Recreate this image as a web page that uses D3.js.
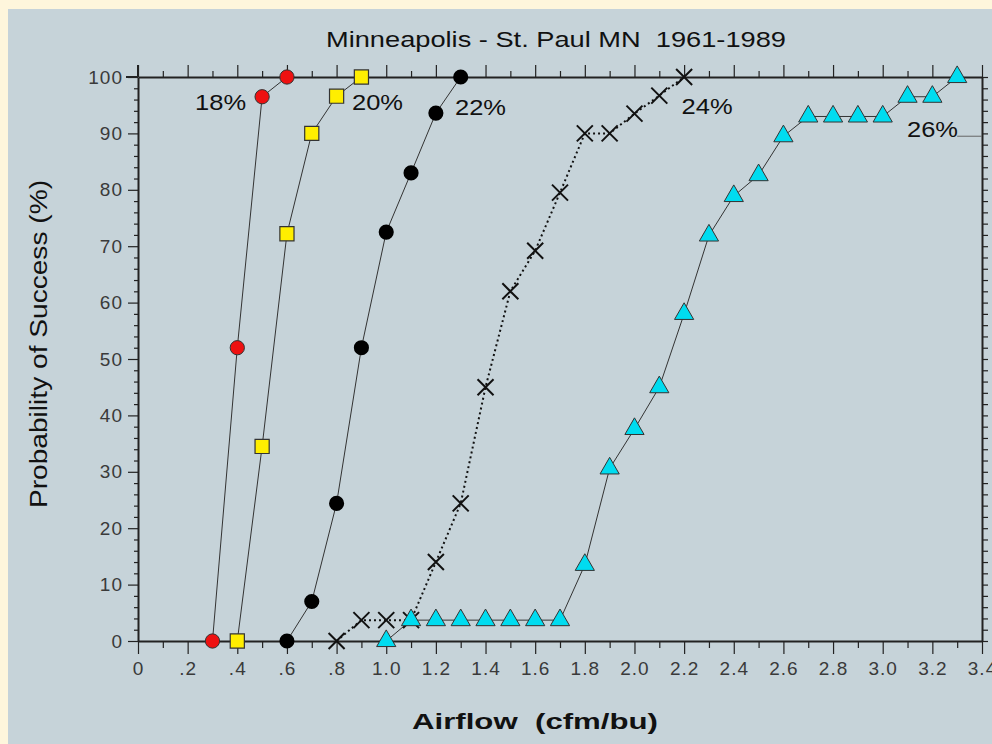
<!DOCTYPE html>
<html>
<head>
<meta charset="utf-8">
<script src="https://cdn.jsdelivr.net/npm/d3@7"></script>
<style>
  body { margin: 0; background: #fef6dc; }
  svg { display: block; }
  text { font-family: "Liberation Sans", Arial, sans-serif; white-space: pre; }
</style>
</head>
<body>
<svg id="chart" width="992" height="744"></svg>
<script>
// airflow levels (cfm/bu)
let airflow18 = [0.3, 0.4, 0.5, 0.6];
let success18 = [0, 52, 96.5, 100];

let airflow20 = [0.4, 0.5, 0.6, 0.7, 0.8, 0.9];
let success20 = [0, 34.5, 72.2, 90, 96.6, 100];

let airflow22 = [0.6, 0.7, 0.8, 0.9, 1.0, 1.1, 1.2, 1.3];
let success22 = [0, 7, 24.4, 52, 72.5, 83, 93.6, 100];

let airflow24 = [0.8, 0.9, 1.0, 1.1, 1.2, 1.3, 1.4, 1.5, 1.6, 1.7, 1.8, 1.9, 2.0, 2.1, 2.2];
let success24 = [0, 3.7, 3.7, 3.7, 14, 24.4, 45, 62, 69.2, 79.5, 90, 90, 93.5, 96.7, 100];

let airflow26 = [1.0, 1.1, 1.2, 1.3, 1.4, 1.5, 1.6, 1.7, 1.8, 1.9, 2.0, 2.1, 2.2, 2.3, 2.4, 2.5, 2.6, 2.7, 2.8, 2.9, 3.0, 3.1, 3.2, 3.3];
let success26 = [0, 3.7, 3.7, 3.7, 3.7, 3.7, 3.7, 3.7, 13.5, 30.6, 37.6, 45, 58, 71.9, 78.9, 82.6, 89.5, 93, 93, 93, 93, 96.5, 96.5, 100];

let seriesLabels = ["18%", "20%", "22%", "24%", "26%"];
let xTickLabels = ["0", ".2", ".4", ".6", ".8", "1.0", "1.2", "1.4", "1.6", "1.8", "2.0", "2.2", "2.4", "2.6", "2.8", "3.0", "3.2", "3.4"];
let yTicks = [0, 10, 20, 30, 40, 50, 60, 70, 80, 90, 100];

let svg = d3.select("#chart");

// grey panel
svg.append("rect").attr("x", 8).attr("y", 9).attr("width", 984).attr("height", 735).attr("fill", "#c6d3d9");

let x = d3.scaleLinear().domain([0, 3.4]).range([138, 982]);
let y = d3.scaleLinear().domain([0, 100]).range([641, 77]);

let ink = "#222";

// title
svg.append("text").attr("x", 556).attr("y", 47).attr("text-anchor", "middle")
    .attr("font-size", 22).attr("fill", "#111").attr("textLength", 460)
    .attr("lengthAdjust", "spacingAndGlyphs")
    .text("Minneapolis - St. Paul MN  1961-1989");

// axes
let axBottom = svg.append("g").attr("transform", `translate(0,${y(0)})`)
    .call(d3.axisBottom(x).tickValues(d3.range(0, 3.41, 0.2)).tickSize(13).tickSizeOuter(0)
        .tickFormat((d, i) => xTickLabels[i]));
let axBottomMinor = svg.append("g").attr("transform", `translate(0,${y(0)})`)
    .call(d3.axisBottom(x).tickValues(d3.range(0.1, 3.4, 0.2)).tickSize(7).tickFormat(""));

let axTop = svg.append("g").attr("transform", `translate(0,${y(100)})`)
    .call(d3.axisTop(x).tickValues(d3.range(0, 3.41, 0.2)).tickSize(12).tickSizeOuter(0).tickFormat(""));
let axTopMinor = svg.append("g").attr("transform", `translate(0,${y(100)})`)
    .call(d3.axisTop(x).tickValues(d3.range(0.1, 3.4, 0.2)).tickSize(6).tickFormat(""));

let axLeft = svg.append("g").attr("transform", `translate(${x(0)},0)`)
    .call(d3.axisLeft(y).tickValues(yTicks).tickSize(10).tickSizeOuter(0).tickPadding(5));
let axLeftMinor = svg.append("g").attr("transform", `translate(${x(0)},0)`)
    .call(d3.axisLeft(y).tickValues(d3.range(2, 100, 2).filter(v => v % 10 !== 0)).tickSize(4).tickFormat(""));

let axRight = svg.append("g").attr("transform", `translate(${x(3.4)},0)`)
    .call(d3.axisRight(y).tickValues(d3.range(0, 101, 2)).tickSize(6).tickSizeOuter(0).tickFormat(""));

[axBottom, axBottomMinor, axTop, axTopMinor, axLeft, axLeftMinor, axRight].forEach(g => {
    g.attr("font-size", null).attr("font-family", null);
    g.select(".domain").attr("stroke", ink).attr("stroke-width", 2);
    g.selectAll(".tick line").attr("stroke", ink).attr("stroke-width", 1.2);
    g.selectAll(".tick text").attr("font-size", 19).attr("letter-spacing", 1)
        .attr("fill", "#3a3a3a");
});
[axBottomMinor, axTopMinor, axLeftMinor].forEach(g => g.select(".domain").remove());
axBottom.selectAll(".tick text").attr("dy", "0.95em");

// little overshoot where the axes meet
svg.append("line").attr("x1", x(0) - 12).attr("x2", x(0)).attr("y1", y(100)).attr("y2", y(100))
    .attr("stroke", ink).attr("stroke-width", 2);
svg.append("line").attr("x1", x(0)).attr("x2", x(0)).attr("y1", y(100) - 12).attr("y2", y(100))
    .attr("stroke", ink).attr("stroke-width", 2);

// axis titles
svg.append("text").attr("x", 535).attr("y", 729).attr("text-anchor", "middle")
    .attr("font-size", 22).attr("font-weight", "bold").attr("fill", "#111")
    .attr("textLength", 246).attr("lengthAdjust", "spacingAndGlyphs")
    .text("Airflow  (cfm/bu)");
svg.append("text").attr("transform", "translate(47,344) rotate(-90)").attr("text-anchor", "middle")
    .attr("font-size", 23).attr("fill", "#111")
    .attr("textLength", 328).attr("lengthAdjust", "spacingAndGlyphs")
    .text("Probability of Success (%)");

// stray line near 26% label
svg.append("line").attr("x1", x(3.3)).attr("x2", x(3.4)).attr("y1", y(89.5)).attr("y2", y(89.5))
    .attr("stroke", "#666").attr("stroke-width", 1);

let series = [
    {xs: airflow18, ys: success18, marker: "redCircle", dash: null},
    {xs: airflow20, ys: success20, marker: "square", dash: null},
    {xs: airflow22, ys: success22, marker: "blackCircle", dash: null},
    {xs: airflow24, ys: success24, marker: "cross", dash: "2,3"},
    {xs: airflow26, ys: success26, marker: "triangle", dash: null}
];

let line = d3.line().x(d => x(d[0])).y(d => y(d[1]));

series.forEach(s => {
    let pts = d3.zip(s.xs, s.ys);
    svg.append("path").datum(pts).attr("d", line).attr("fill", "none")
        .attr("stroke", s.dash ? "#111" : "#333")
        .attr("stroke-width", s.dash ? 2 : 1)
        .attr("stroke-dasharray", s.dash);
});

series.forEach(s => {
    let pts = d3.zip(s.xs, s.ys);
    let g = svg.append("g");
    let sel = g.selectAll("path").data(pts).enter().append("path")
        .attr("transform", d => `translate(${x(d[0])},${y(d[1])})`);
    if (s.marker === "redCircle") {
        sel.attr("d", d3.symbol(d3.symbolCircle, 160)).attr("fill", "#ee1111").attr("stroke", "#333").attr("stroke-width", 1);
    } else if (s.marker === "blackCircle") {
        sel.attr("d", d3.symbol(d3.symbolCircle, 180)).attr("fill", "#000");
    } else if (s.marker === "square") {
        sel.attr("d", d3.symbol(d3.symbolSquare, 200)).attr("fill", "#ffee00").attr("stroke", "#333").attr("stroke-width", 1.2);
    } else if (s.marker === "cross") {
        sel.attr("d", "M-8,-8L8,8M-8,8L8,-8").attr("fill", "none").attr("stroke", "#111").attr("stroke-width", 2);
    } else {
        sel.attr("d", d3.symbol(d3.symbolTriangle, 160)).attr("fill", "#00dcf0").attr("stroke", "#333").attr("stroke-width", 1);
    }
});

// series labels
let labelPos = [[0.23, 94.1], [0.862, 94.1], [1.277, 93.3], [2.19, 93.4], [3.098, 89.4]];
svg.selectAll(".serieslabel").data(seriesLabels).enter().append("text")
    .attr("x", (d, i) => x(labelPos[i][0]))
    .attr("y", (d, i) => y(labelPos[i][1]))
    .attr("font-size", 22).attr("fill", "#111")
    .attr("textLength", 51).attr("lengthAdjust", "spacingAndGlyphs")
    .text(d => d);
</script>
</body>
</html>
